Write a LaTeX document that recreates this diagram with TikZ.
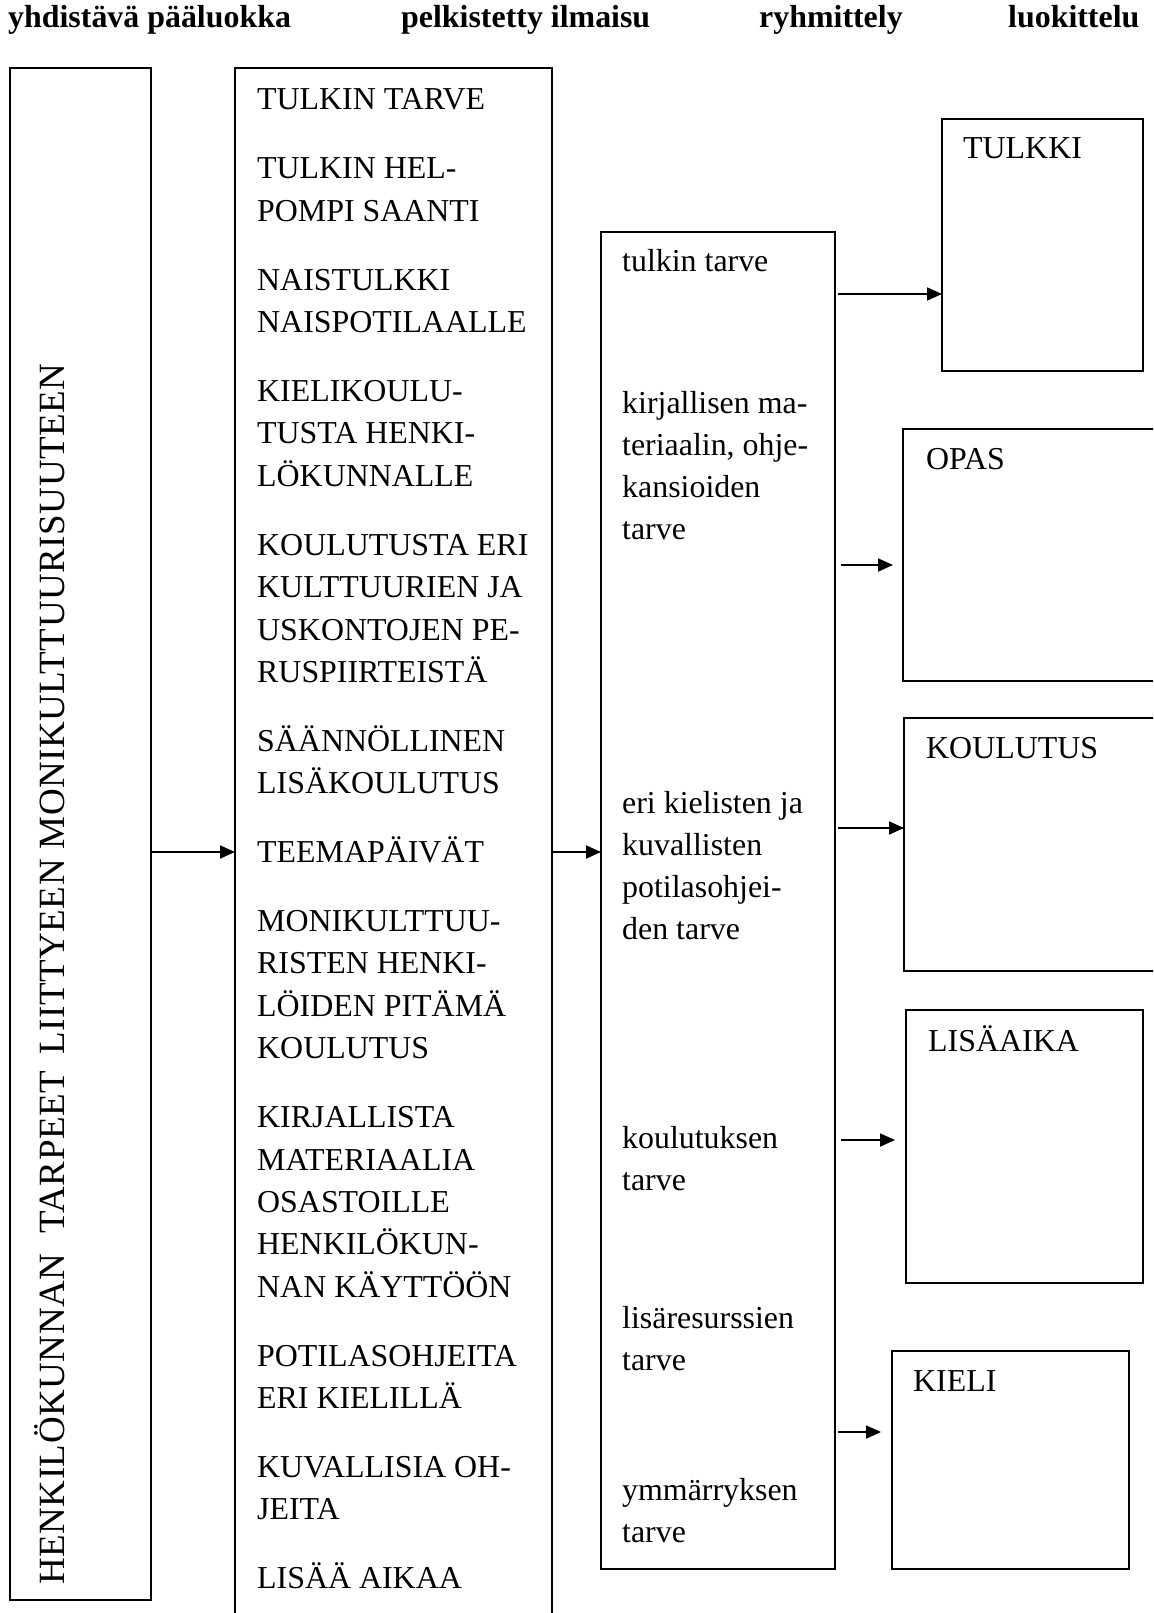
\documentclass[tikz,border=0pt]{standalone}
\usepackage{fontspec}
\setmainfont{Liberation Serif}
\usetikzlibrary{arrows.meta}

\tikzset{
  box/.style={draw=black, line width=1.8pt, inner sep=0pt, outer sep=0pt, anchor=north west},
  txt/.style={inner sep=0pt, anchor=base west, font=\fontsize{31.9}{42.4}\selectfont},
  head/.style={inner sep=0pt, anchor=base west, font=\fontsize{31.9}{42.4}\selectfont\bfseries},
  arr/.style={line width=1.8pt, -{Triangle[length=15pt,width=13pt]}},
}

\begin{document}
\begin{tikzpicture}[x=1pt, y=-1pt]
\useasboundingbox (0,0) rectangle (1153,1613);
\clip (0,0) rectangle (1153,1613);

% column headings
\node[head] (h1) at (8,28)    {yhdistävä pääluokka};
\node[head] (h2) at (401,28)  {pelkistetty ilmaisu};
\node[head] (h3) at (759,28)  {ryhmittely};
\node[head] (h4) at (1008,28) {luokittelu};

% main category box with vertical title
\node[box, minimum width=141pt, minimum height=1532pt] (left) at (10,68) {};
\node[inner sep=0pt, anchor=base west, rotate=90,
      font=\fontsize{37}{40}\selectfont\addfontfeature{LetterSpace=1.5}]
  (title) at (64,1585)
  {HENKILÖKUNNAN\hspace{20pt}TARPEET\hspace{16pt}LIITTYEEN MONIKULTTUURISUUTEEN};

% simplified expressions
\node[box, minimum width=317pt, minimum height=1580pt] (mid) at (235,68) {};
\foreach \y/\t [count=\i] in {
  110/TULKIN TARVE,
  178.9/TULKIN HEL-, 221.3/POMPI SAANTI,
  290.2/NAISTULKKI, 332.6/NAISPOTILAALLE,
  401.5/KIELIKOULU-, 443.9/TUSTA HENKI-, 486.3/LÖKUNNALLE,
  555.2/KOULUTUSTA ERI, 597.6/KULTTUURIEN JA, 640/USKONTOJEN PE-, 682.4/RUSPIIRTEISTÄ,
  751.3/SÄÄNNÖLLINEN, 793.7/LISÄKOULUTUS,
  862.6/TEEMAPÄIVÄT,
  931.5/MONIKULTTUU-, 973.9/RISTEN HENKI-, 1016.3/LÖIDEN PITÄMÄ, 1058.7/KOULUTUS,
  1127.6/KIRJALLISTA, 1170/MATERIAALIA, 1212.4/OSASTOILLE, 1254.8/HENKILÖKUN-, 1297.2/NAN KÄYTTÖÖN,
  1366.1/POTILASOHJEITA, 1408.5/ERI KIELILLÄ,
  1477.4/KUVALLISIA OH-, 1519.8/JEITA,
  1588.7/LISÄÄ AIKAA}
  \node[txt] (m\i) at (257,\y) {\t};

% grouping
\node[box, minimum width=234pt, minimum height=1337pt] (third) at (601,232) {};
\foreach \y/\t [count=\i] in {
  272/tulkin tarve,
  413/kirjallisen ma-, 455/{teriaalin, ohje-}, 497/kansioiden, 539/tarve,
  813/eri kielisten ja, 855/kuvallisten, 897/potilasohjei-, 939/den tarve,
  1148/koulutuksen, 1190/tarve,
  1328/lisäresurssien, 1370/tarve,
  1500/ymmärryksen, 1542/tarve}
  \node[txt] (g\i) at (622,\y) {\t};

% classes
\node[box, minimum width=201pt, minimum height=252pt] (tulkki) at (942,119) {};
\node[txt] (tulkkiL) at (963,159) {TULKKI};
\node[box, minimum width=270pt, minimum height=252pt] (opas) at (903,429) {};
\node[txt] (opasL) at (926,469) {OPAS};
\node[box, minimum width=270pt, minimum height=253pt] (koul) at (904,718) {};
\node[txt] (koulL) at (926,758) {KOULUTUS};
\node[box, minimum width=237pt, minimum height=273pt] (lisa) at (906,1010) {};
\node[txt] (lisaL) at (928,1051) {LISÄAIKA};
\node[box, minimum width=237pt, minimum height=218pt] (kieli) at (892,1351) {};
\node[txt] (kieliL) at (913,1391) {KIELI};

% connectors
\coordinate (j1) at (left.east |- 0,852);
\draw[arr] (j1) -- (j1 -| mid.west);
\coordinate (j2) at (mid.east |- 0,852);
\draw[arr] (j2) -- (j2 -| third.west);

\coordinate (s1) at (838,294);
\draw[arr] (s1) -- (s1 -| tulkki.west);
\coordinate (s2) at (841,565);
\draw[arr, shorten >=10pt] (s2) -- (s2 -| opas.west);
\coordinate (s3) at (838,828);
\draw[arr] (s3) -- (s3 -| koul.west);
\coordinate (s4) at (841,1140);
\draw[arr, shorten >=11pt] (s4) -- (s4 -| lisa.west);
\coordinate (s5) at (838,1432);
\draw[arr, shorten >=11pt] (s5) -- (s5 -| kieli.west);
\end{tikzpicture}
\end{document}
